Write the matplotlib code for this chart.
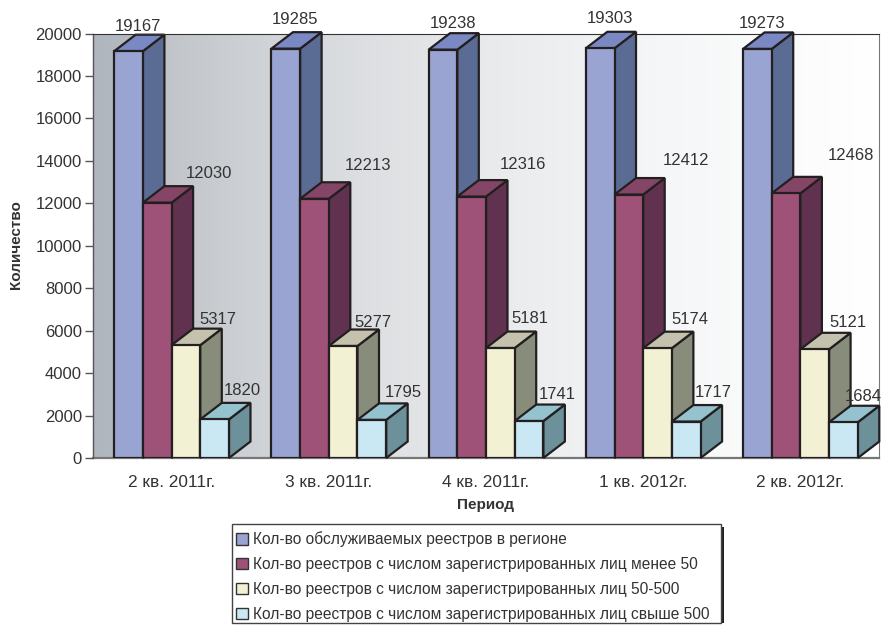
import matplotlib.pyplot as plt
import numpy as np
from matplotlib.colors import LinearSegmentedColormap
from matplotlib.patches import Patch, Rectangle

plt.rcParams['font.family'] = ['Liberation Sans', 'DejaVu Sans']

periods = ['2 кв. 2011г.', '3 кв. 2011г.', '4 кв. 2011г.', '1 кв. 2012г.', '2 кв. 2012г.']
names = ['Кол-во обслуживаемых реестров в регионе',
         'Кол-во реестров с числом зарегистрированных лиц менее 50',
         'Кол-во реестров с числом зарегистрированных лиц 50-500',
         'Кол-во реестров с числом зарегистрированных лиц свыше 500']

total = [19167, 19285, 19238, 19303, 19273]
under_50 = [12030, 12213, 12316, 12412, 12468]
from_50_to_500 = [5317, 5277, 5181, 5174, 5121]
over_500 = [1820, 1795, 1741, 1717, 1684]
series = [total, under_50, from_50_to_500, over_500]

# front, top, side
colors = [('#99a4d2', '#7a88c4', '#5a6b94'),
          ('#9f5278', '#854566', '#60324f'),
          ('#f3f1d3', '#c4c2ac', '#888d7b'),
          ('#c9e8f4', '#94c2cf', '#6c919b')]

# label shift from the bar's front top centre, in pixels
label_dx = [[9, 9, 10, 10, 5],
            [51.5, 54, 51, 57, 65],
            [32, 30, 30, 32, 33],
            [28, 31, 28, 27.5, 20]]
label_dy = [[25, 29, 26, 30, 25],
            [29, 33, 32, 34, 38],
            [26, 23, 30, 29, 27],
            [29, 27, 27, 29, 26]]

W, H = 893, 625
EDGE = '#231f20'
TEXT = '#333333'
bar_w = 0.1825
depth_x = 21.5 / 157.2
depth_y = 16.5 / 424.5 * 20000
px = 72 / 100

fig = plt.figure(figsize=(W / 100, H / 100), dpi=100)
ax = fig.add_axes([93 / W, 1 - 458 / H, 786 / W, 424.5 / H])

bg = LinearSegmentedColormap.from_list('bg', [(0, '#afb6be'), (0.03, '#b3b9c0'), (0.1, '#c2c5ca'),
                                              (0.27, '#d6d9dc'), (0.5, '#e9eaec'),
                                              (0.72, '#f5f6f7'), (1, '#ffffff')])
ax.imshow(np.linspace(0, 1, 400).reshape(1, -1), cmap=bg, aspect='auto',
          extent=(0, 5, 0, 20000), zorder=0)

z = 2
for i in range(len(periods)):
    for j, vals in enumerate(series):
        v = vals[i]
        x0 = i + 0.5 + (j - 2) * bar_w
        x1 = x0 + bar_w
        front, top, side = colors[j]
        ax.fill([x1, x1 + depth_x, x1 + depth_x, x1], [0, depth_y, v + depth_y, v],
                facecolor=side, edgecolor=EDGE, lw=1.6, zorder=z, clip_on=False)
        ax.fill([x0, x1, x1 + depth_x, x0 + depth_x], [v, v, v + depth_y, v + depth_y],
                facecolor=top, edgecolor=EDGE, lw=1.6, zorder=z, clip_on=False)
        ax.bar(x0, v, bar_w, align='edge', color=front, edgecolor=EDGE, lw=1.6, zorder=z)
        ax.annotate(str(v), (x0 + bar_w / 2, v), xytext=(label_dx[j][i] * px, label_dy[j][i] * px),
                    textcoords='offset points', ha='center', va='center',
                    fontsize=12, color=TEXT, zorder=50)
        z += 1

ax.set_xlim(0, 5)
ax.set_ylim(0, 20000)
ax.set_yticks(np.arange(0, 20001, 2000))
ax.set_xticks(np.arange(5) + 0.5)
ax.set_xticklabels(periods)
ax.tick_params(axis='y', length=6, width=1, color='#555555', labelsize=12, labelcolor=TEXT, pad=2)
ax.tick_params(axis='x', length=0, labelsize=12.4, labelcolor=TEXT, pad=12)
ax.spines['left'].set_color('#555555')
ax.spines['left'].set_linewidth(1)
ax.spines['bottom'].set_color('#777777')
ax.spines['bottom'].set_linewidth(1.6)
ax.spines['bottom'].set_zorder(1)
ax.spines['top'].set_color('#333333')
ax.spines['top'].set_linewidth(0.8)
ax.spines['right'].set_color('#777777')
ax.spines['right'].set_linewidth(0.8)

fig.text(486 / W, 1 - 505 / H, 'Период', fontsize=11, fontweight='bold', color=TEXT,
         ha='center', va='center')
fig.text(16.5 / W, 1 - 245 / H, 'Количество', fontsize=11, fontweight='bold', color=TEXT,
         rotation=90, ha='center', va='center')

# legend frame and its shadow
fig.add_artist(Rectangle((721 / W, 1 - 623 / H), 3 / W, 96 / H, transform=fig.transFigure,
                         facecolor='#222222', edgecolor='none'))
fig.add_artist(Rectangle((232 / W, 1 - 623 / H), 489 / W, 99 / H, transform=fig.transFigure,
                         facecolor='white', edgecolor='#444444', lw=1))
handles = [Patch(facecolor=c[0], edgecolor='#333333', lw=1) for c in colors]
leg = fig.legend(handles, names, loc='lower left',
                 bbox_to_anchor=(232 / W, 1 - 626 / H), bbox_transform=fig.transFigure,
                 fontsize=11.2, labelcolor=TEXT, frameon=False, borderaxespad=0,
                 handlelength=0.75, handleheight=0.75, handletextpad=0.35,
                 labelspacing=0.64, borderpad=0.25)

fig.savefig('out.png', dpi=100)
